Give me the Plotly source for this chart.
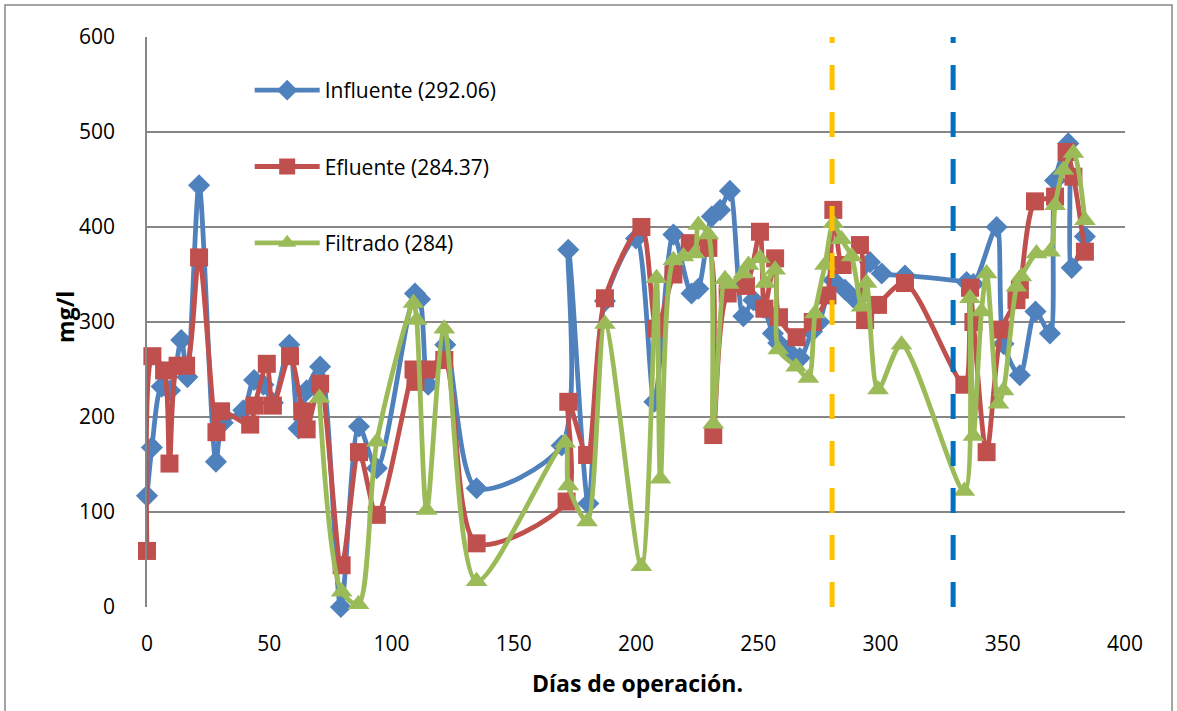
import plotly.graph_objects as go

# Influente
dias_inf = [0, 2, 6, 9.4, 14, 16.5, 21.3, 28.2, 31, 39.4, 43.8, 47.6, 51.5, 58.2, 62, 65.3,
            70.8, 79.3, 86.7, 94, 109.6, 111.7, 115, 122, 134.8, 169.6, 172.3, 180.5, 187.3,
            200, 207.5, 215.3, 222.7, 225.5, 231, 234.4, 238.4, 243.9, 248, 252, 256, 258.2,
            262, 267, 272, 275, 280.7, 285.5, 290, 295.7, 300.5, 310, 335.2, 338, 347.5,
            350.3, 357, 363.4, 369.3, 371.4, 376.8, 378.2, 383.6]
val_inf = [117, 168, 232, 228, 281, 242, 444, 153, 194, 207, 239, 234, 215, 276, 188, 228,
           253, 0, 190, 146, 330, 324, 234, 276, 125, 170, 376, 109, 322,
           388, 216, 392, 330, 335, 411, 418, 438, 306, 323, 315, 288, 278,
           270, 262, 290, 300, 344, 334, 323, 363, 351, 349, 342, 340, 400,
           277, 244, 311, 288, 449, 488, 357, 390]

# Efluente
dias_efl = [0, 2.2, 7, 9.2, 12.5, 16, 21.3, 28.4, 30.3, 42.2, 44.1, 49, 51.5, 58.5, 63.5, 65.3,
            70.8, 79.6, 86.7, 94, 109, 109.8, 114.4, 121.6, 134.8, 171.6, 172.3, 180, 187.3,
            202.2, 208.4, 215.3, 222, 229.6, 231.6, 237.5, 245, 250.7, 252.5, 256.9, 258.5,
            265.7, 272.3, 278.3, 280.7, 284.5, 291.6, 293.7, 299, 310, 334.3, 336.6, 338,
            343.4, 349.5, 355.6, 357, 363.2, 371.4, 376.1, 378.9, 383.6]
val_efl = [59, 264, 249, 151, 254, 254, 368, 184, 206, 192, 212, 256, 212, 264, 206, 187,
           235, 44, 163, 97, 250, 237, 250, 260, 67, 111, 216, 160, 325,
           400, 293, 350, 383, 378, 181, 330, 338, 395, 314, 367, 305,
           284, 300, 328, 418, 360, 381, 302, 318, 341, 234, 336, 300,
           163, 292, 323, 334, 427, 432, 479, 453, 374]

# Filtrado
dias_fil = [70.5, 79.6, 86.5, 94, 109, 110.3, 114.4, 121.6, 134.8, 171, 172.3, 180, 187.3,
            202.2, 208.4, 210, 215.3, 219.4, 224, 225.5, 229.6, 231.6, 236.4, 238, 243.9,
            246, 250.7, 252.8, 256.9, 258.2, 265.5, 270.5, 273.2, 277.3, 280.7, 284, 288.2,
            292.3, 294.3, 299, 308.6, 334.3, 336.6, 338, 341.3, 343.4, 348.2, 350.3, 355.6,
            357.6, 363.8, 369.3, 371.4, 374.8, 378.9, 383.6]
val_fil = [220, 16, 3, 174, 320, 302, 102, 293, 27, 173, 128, 90, 298,
           43, 346, 135, 365, 369, 372, 402, 392, 193, 345, 340, 351,
           360, 367, 341, 355, 271, 253, 241, 309, 360, 404, 387, 369,
           316, 341, 229, 276, 122, 325, 180, 311, 351, 214, 228, 337,
           348, 372, 374, 423, 460, 478, 407]

series_names = ["Influente (292.06)", "Efluente (284.37)", "Filtrado (284)"]
series_colors = ["#4F81BD", "#C0504D", "#9BBB59"]

# Days where the operating phase changes
cambio_fase = [280.2, 329.7]
cambio_color = ["#FFC000", "#0070C0"]

x_ticks = [0, 50, 100, 150, 200, 250, 300, 350, 400]
y_ticks = [0, 100, 200, 300, 400, 500, 600]

FONT = "Open Sans, sans-serif"

fig = go.Figure()

datos = [(dias_inf, val_inf, "diamond", 17), (dias_efl, val_efl, "square", 18),
         (dias_fil, val_fil, "triangle-up", 19)]
for i, (xs, ys, sym, sz) in enumerate(datos):
    fig.add_trace(go.Scatter(
        x=xs, y=ys, mode="lines+markers", name=series_names[i],
        legendgroup=f"g{i}", cliponaxis=False,
        line=dict(color=series_colors[i], width=4.8, shape="spline", smoothing=0.8),
        marker=dict(symbol=sym, size=sz, color=series_colors[i]),
    ))

for xv, col in zip(cambio_fase, cambio_color):
    fig.add_shape(type="line", xref="x", yref="paper", x0=xv, x1=xv, y0=0, y1=1,
                  line=dict(color=col, width=5, dash="25px,22px"), layer="above")

# Outer chart frame
fig.add_shape(type="rect", xref="paper", yref="paper",
              x0=-0.1452, x1=1.0481, y0=-0.2, y1=1.0561,
              line=dict(color="#868686", width=1.5), fillcolor="rgba(0,0,0,0)")

fig.add_annotation(text="<b>mg/l</b>", xref="paper", yref="paper", x=-0.0838, y=0.509,
                   xanchor="center", yanchor="middle",
                   textangle=-90, showarrow=False, font=dict(size=23, family=FONT, color="black"))
fig.add_annotation(text="<b>Días de operación.</b>", xref="paper", yref="paper", x=0.502, y=-0.133,
                   xanchor="center", yanchor="middle",
                   showarrow=False, font=dict(size=23, family=FONT, color="black"))

fig.update_layout(
    width=1177, height=711,
    margin=dict(l=147, r=52, t=37, b=104),
    paper_bgcolor="white", plot_bgcolor="white",
    font=dict(family=FONT, size=21, color="black"),
    legend=dict(x=0.105, y=0.942, xanchor="left", yanchor="top", itemwidth=65,
                bgcolor="rgba(0,0,0,0)", tracegroupgap=46, font=dict(size=21)),
    xaxis=dict(range=[0, 400], tickvals=x_ticks, showgrid=False, zeroline=False,
               showline=False, ticks="", ticklabelstandoff=22),
    yaxis=dict(range=[0, 600], tickvals=y_ticks, showgrid=True, gridcolor="#868686",
               gridwidth=1.5, zeroline=False, showline=True, linecolor="#868686",
               linewidth=1.5, ticks="", ticklabelstandoff=26),
)

fig.write_html("out.html")
